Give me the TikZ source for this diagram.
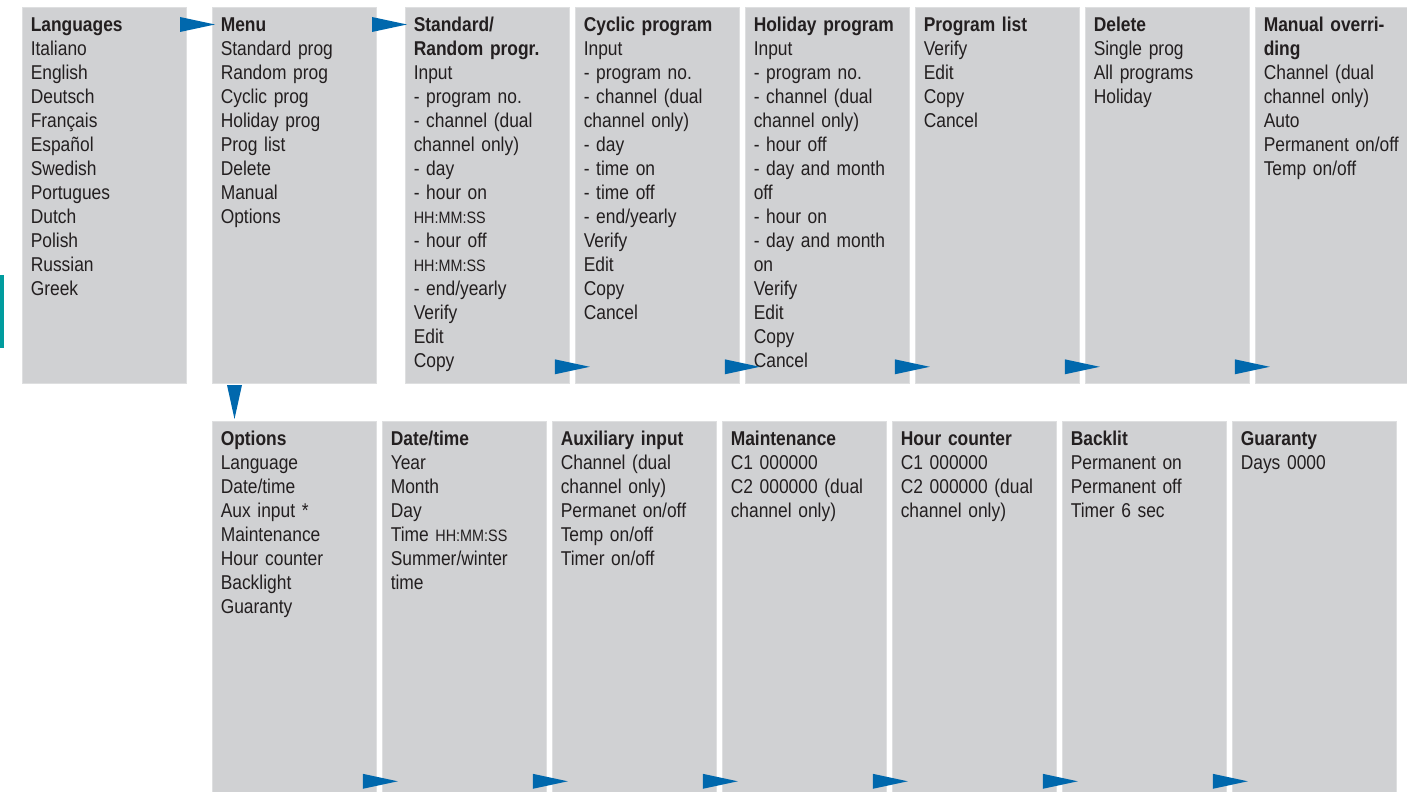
\documentclass[tikz,border=0pt]{standalone}
\usepackage{fontspec}
\setmainfont{Liberation Sans}[FakeStretch=0.87]
\usetikzlibrary{calc}

\tikzset{
    panel/.style={anchor=north west, fill=panelgray, draw=paneledge, line width=0.6pt,
        inner sep=0pt, minimum width=123pt},
    paneltext/.style={anchor=base west, inner sep=0pt, text width=160pt, align=left,
        text=ink, font=\fontsize{15pt}{18pt}\selectfont},
    tipright/.pic={\fill[tipblue] (-35,-7.5) -- (0,0) -- (-35,7.5) -- cycle;},
    tipdown/.pic={\fill[tipblue] (-7.5,-34) -- (0,0) -- (7.5,-34) -- cycle;},
}
\newcommand{\hms}{{\fontsize{12.4pt}{18pt}\selectfont HH:MM:SS}}

\begin{document}
\begin{tikzpicture}[x=0.75pt, y=-0.75pt]

\definecolor{panelgray}{HTML}{D0D1D3}
\definecolor{paneledge}{HTML}{DEDFE0}
\definecolor{tipblue}{HTML}{0068AD}
\definecolor{ink}{HTML}{231F20}
\definecolor{tabteal}{HTML}{009C9E}

\useasboundingbox (0,0) rectangle (1407,792);

% ---------------------------------------------------------------- panels
% pixel units, y running down; top row 7..383, bottom row 421..792
\foreach \name/\x in {lang/22, menu/212, std/405, cyc/575, hol/745, plist/915, del/1085}
    \node[panel, minimum height=282pt] (\name) at (\x,7) {};
\node[panel, minimum height=282pt, minimum width=114pt] (man) at (1255,7) {};

\foreach \name/\x in {opt/212, dt/382, aux/552, maint/722, hour/892, back/1062, guar/1232}
    \node[panel, minimum height=278.25pt] (\name) at (\x,421) {};

\fill[tabteal] (0,275) rectangle (4,348);

% ---------------------------------------------------------------- texts, top row
\node[paneltext] (lang-t) at ($(lang.north west)+(8.5,24.5)$)
    {\textbf{Languages}\\Italiano\\English\\Deutsch\\Français\\Español\\Swedish\\Portugues\\Dutch\\Polish\\Russian\\Greek};
\node[paneltext] (menu-t) at ($(menu.north west)+(8.5,24.5)$)
    {\textbf{Menu}\\Standard prog\\Random prog\\Cyclic prog\\Holiday prog\\Prog list\\Delete\\Manual\\Options};
\node[paneltext] (std-t) at ($(std.north west)+(8.5,24.5)$)
    {\textbf{Standard/}\\\textbf{Random progr.}\\Input\\- program no.\\- channel (dual\\channel only)\\- day\\- hour on\\\hms\\- hour off\\\hms\\- end/yearly\\Verify\\Edit\\Copy};
\node[paneltext] (cyc-t) at ($(cyc.north west)+(8.5,24.5)$)
    {\textbf{Cyclic program}\\Input\\- program no.\\- channel (dual\\channel only)\\- day\\- time on\\- time off\\- end/yearly\\Verify\\Edit\\Copy\\Cancel};
\node[paneltext] (hol-t) at ($(hol.north west)+(8.5,24.5)$)
    {\textbf{Holiday program}\\Input\\- program no.\\- channel (dual\\channel only)\\- hour off\\- day and month\\off\\- hour on\\- day and month\\on\\Verify\\Edit\\Copy\\Cancel};
\node[paneltext] (plist-t) at ($(plist.north west)+(8.5,24.5)$)
    {\textbf{Program list}\\Verify\\Edit\\Copy\\Cancel};
\node[paneltext] (del-t) at ($(del.north west)+(8.5,24.5)$)
    {\textbf{Delete}\\Single prog\\All programs\\Holiday};
\node[paneltext] (man-t) at ($(man.north west)+(8.5,24.5)$)
    {\textbf{Manual overri-}\\\textbf{ding}\\Channel (dual\\channel only)\\Auto\\Permanent on/off\\Temp on/off};

% ---------------------------------------------------------------- texts, bottom row
\node[paneltext] (opt-t) at ($(opt.north west)+(8.5,24.5)$)
    {\textbf{Options}\\Language\\Date/time\\Aux input *\\Maintenance\\Hour counter\\Backlight\\Guaranty};
\node[paneltext] (dt-t) at ($(dt.north west)+(8.5,24.5)$)
    {\textbf{Date/time}\\Year\\Month\\Day\\Time \hms\\Summer/winter\\time};
\node[paneltext] (aux-t) at ($(aux.north west)+(8.5,24.5)$)
    {\textbf{Auxiliary input}\\Channel (dual\\channel only)\\Permanet on/off\\Temp on/off\\Timer on/off};
\node[paneltext] (maint-t) at ($(maint.north west)+(8.5,24.5)$)
    {\textbf{Maintenance}\\C1 000000\\C2 000000 (dual\\channel only)};
\node[paneltext] (hour-t) at ($(hour.north west)+(8.5,24.5)$)
    {\textbf{Hour counter}\\C1 000000\\C2 000000 (dual\\channel only)};
\node[paneltext] (back-t) at ($(back.north west)+(8.5,24.5)$)
    {\textbf{Backlit}\\Permanent on\\Permanent off\\Timer 6 sec};
\node[paneltext] (guar-t) at ($(guar.north west)+(8.5,24.5)$)
    {\textbf{Guaranty}\\Days 0000};

% ---------------------------------------------------------------- arrows
\pic at ($(menu.north west)+(3,17.5)$) {tipright};
\pic at ($(std.north west)+(2,17.5)$) {tipright};
\foreach \b in {std, cyc, hol, plist, del}
    \pic at ($(\b.south east)+(20,-17)$) {tipright};
\foreach \b in {opt, dt, aux, maint, hour, back}
    \pic at ($(\b.south east)+(21,-11.5)$) {tipright};
\pic at ($(opt.north west)+(22.5,-2)$) {tipdown};

\end{tikzpicture}
\end{document}
